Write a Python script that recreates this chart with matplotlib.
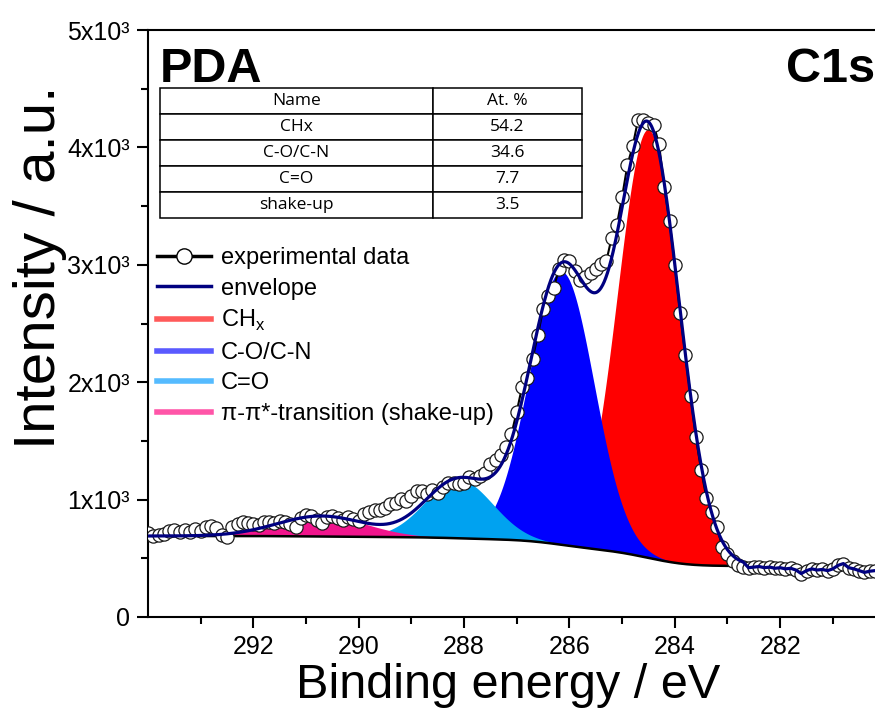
import matplotlib
matplotlib.use('Agg')
import numpy as np
import matplotlib.pyplot as plt
from matplotlib.lines import Line2D

# ---------------- data ----------------
energy = np.linspace(294.0, 280.2, 139)  # instrument grid, 0.1 eV step
intensity = [
    # 294.0 - 290.5
    715, 690, 700, 705, 735, 740, 725, 745, 720, 750,
    735, 765, 775, 755, 700, 680, 770, 790, 805, 800,
    790, 780, 810, 805, 800, 820, 810, 790, 770, 845,
    870, 860, 830, 800, 850, 860,
    # 290.4 - 287.2
    845, 830, 850, 835, 815, 880, 895, 910, 915, 930,
    960, 970, 1005, 985, 1030, 1075, 1070, 1045, 1080, 1060,
    1110, 1140, 1145, 1130, 1145, 1190, 1175, 1200, 1225, 1300,
    1340, 1380, 1450,
    # 287.1 - 283.0
    1560, 1750, 1960, 2040, 2200, 2400, 2620, 2730, 2800, 2960,
    3040, 3030, 2950, 2870, 2900, 2930, 2960, 3010, 3030, 3230,
    3340, 3580, 3850, 4010, 4230, 4230, 4205, 4190, 4030, 3660,
    3370, 3000, 2590, 2230, 1880, 1530, 1250, 1015, 895, 765,
    600, 540,
    # 282.9 - 280.2
    480, 445, 430, 420, 425, 430, 420, 425, 415, 420,
    410, 415, 400, 370, 395, 410, 400, 405, 395, 410,
    440, 455, 420, 410, 395, 380, 390, 395,
]

peak_names = ['CHx', 'C-O/C-N', 'C=O', 'shake-up']
peak_center = [284.5, 286.15, 288.1, 290.7]
peak_fwhm = [1.38, 1.45, 1.5, 2.0]
peak_height = [3650, 2330, 500, 175]
at_percent = ['54.2', '34.6', '7.7', '3.5']
bg_high, bg_low = 690, 435
region = (294.0, 282.7)

legend_labels = ['experimental data', 'envelope', r'CH$_\mathregular{x}$',
                 'C-O/C-N', 'C=O', 'π-π*-transition (shake-up)']
xticks_major = [282, 284, 286, 288, 290, 292]
yticks_major = [0, 1000, 2000, 3000, 4000, 5000]
ytick_labels = ['0', '1x10³', '2x10³', '3x10³', '4x10³', '5x10³']

fill_colors = ['#FF0000', '#0000FF', '#00A2F0', '#F0148C']
legend_colors = ['#FF5A5A', '#5A5AFF', '#55BBFF', '#FF55A8']

# ---------------- fonts ----------------
plt.rcParams['font.family'] = ['Liberation Sans', 'DejaVu Sans']
plt.rcParams['mathtext.fontset'] = 'custom'
plt.rcParams['mathtext.rm'] = 'Liberation Sans'

# ---------------- model ----------------
ef = np.linspace(region[0], region[1], 1131)
comps = [h * np.exp(-4 * np.log(2) * ((ef - c) / w) ** 2)
         for c, w, h in zip(peak_center, peak_fwhm, peak_height)]
total = np.sum(comps, axis=0)
cum = np.cumsum(total[::-1])[::-1]
frac = cum / cum.max()
bg = bg_low + (bg_high - bg_low) * frac
env_model = bg + total

intensity = np.array(intensity, dtype=float)
mask = energy < region[1] - 1e-9
env_x = np.concatenate([ef, energy[mask]])
env_y = np.concatenate([env_model, intensity[mask]])

# ---------------- figure ----------------
fig = plt.figure(figsize=(8.75, 7.27), dpi=100)
ax = fig.add_axes([148 / 875, 110 / 727, 727 / 875, 587 / 727])

for i in range(4):
    ax.fill_between(ef, bg, bg + comps[i], color=fill_colors[i], lw=0, zorder=1 + i)
ax.plot(ef, bg, color='k', lw=1.8, zorder=5)
ax.plot(energy, intensity, '-', color='k', lw=1.5, marker='o', ms=9.5,
        mfc='white', mec='#1a1a1a', mew=0.9, zorder=6)
ax.plot(env_x, env_y, color='#000080', lw=2.3, zorder=7)

ax.set_xlim(294.0, 280.2)
ax.set_ylim(0, 5000)
ax.set_xticks(xticks_major)
ax.set_xticks([281, 283, 285, 287, 289, 291, 293], minor=True)
ax.set_yticks(yticks_major)
ax.set_yticklabels(ytick_labels)
ax.set_yticks([500, 1500, 2500, 3500, 4500], minor=True)
ax.tick_params(which='major', direction='out', length=8, width=1.5, labelsize=18, pad=5)
ax.tick_params(which='minor', direction='out', length=5, width=1.5)
for s in ['left', 'bottom', 'top']:
    ax.spines[s].set_linewidth(1.5)
ax.spines['right'].set_visible(False)

ax.set_xlabel('Binding energy / eV', fontsize=35)
ax.xaxis.label.set_va('center')
ax.xaxis.set_label_coords(0.495, -0.116)
ax.set_ylabel('Intensity / a.u.', fontsize=42)
ax.yaxis.label.set_va('center')
ax.yaxis.set_label_coords(-0.148, 0.595)

ax.text(0.0165, 0.911, 'PDA', transform=ax.transAxes, fontsize=35,
        fontweight='bold', va='baseline', ha='left', zorder=10)
ax.text(1.0, 0.911, 'C1s', transform=ax.transAxes, fontsize=35,
        fontweight='bold', va='baseline', ha='right', zorder=10)

# table
rows = [[n, a] for n, a in zip(peak_names, at_percent)]
tab = ax.table(cellText=rows, colLabels=['Name', 'At. %'], cellLoc='center',
               colWidths=[0.647, 0.353], bbox=[0.0165, 0.680, 0.5805, 0.221], zorder=10)
tab.auto_set_font_size(False)
tab.set_fontsize(12.5)
for cell in tab.get_celld().values():
    cell.set_linewidth(1.1)
    cell.set_edgecolor('black')
    cell.set_facecolor('white')
    cell.get_text().set_fontfamily(['Open Sans', 'DejaVu Sans'])

# legend
handles = [Line2D([], [], color='k', lw=2.5, marker='o', ms=11, mfc='white', mec='k', mew=1.0),
           Line2D([], [], color='#000080', lw=2.5)]
for c in legend_colors:
    handles.append(Line2D([], [], color=c, lw=4))
leg = ax.legend(handles, legend_labels, loc='upper left', bbox_to_anchor=(0.0124, 0.630),
                frameon=False, fontsize=17, handlelength=2.3, handletextpad=0.4,
                labelspacing=0.36, borderaxespad=0, borderpad=0, numpoints=1)
leg.set_zorder(10)

fig.savefig('out.png', dpi=100)
